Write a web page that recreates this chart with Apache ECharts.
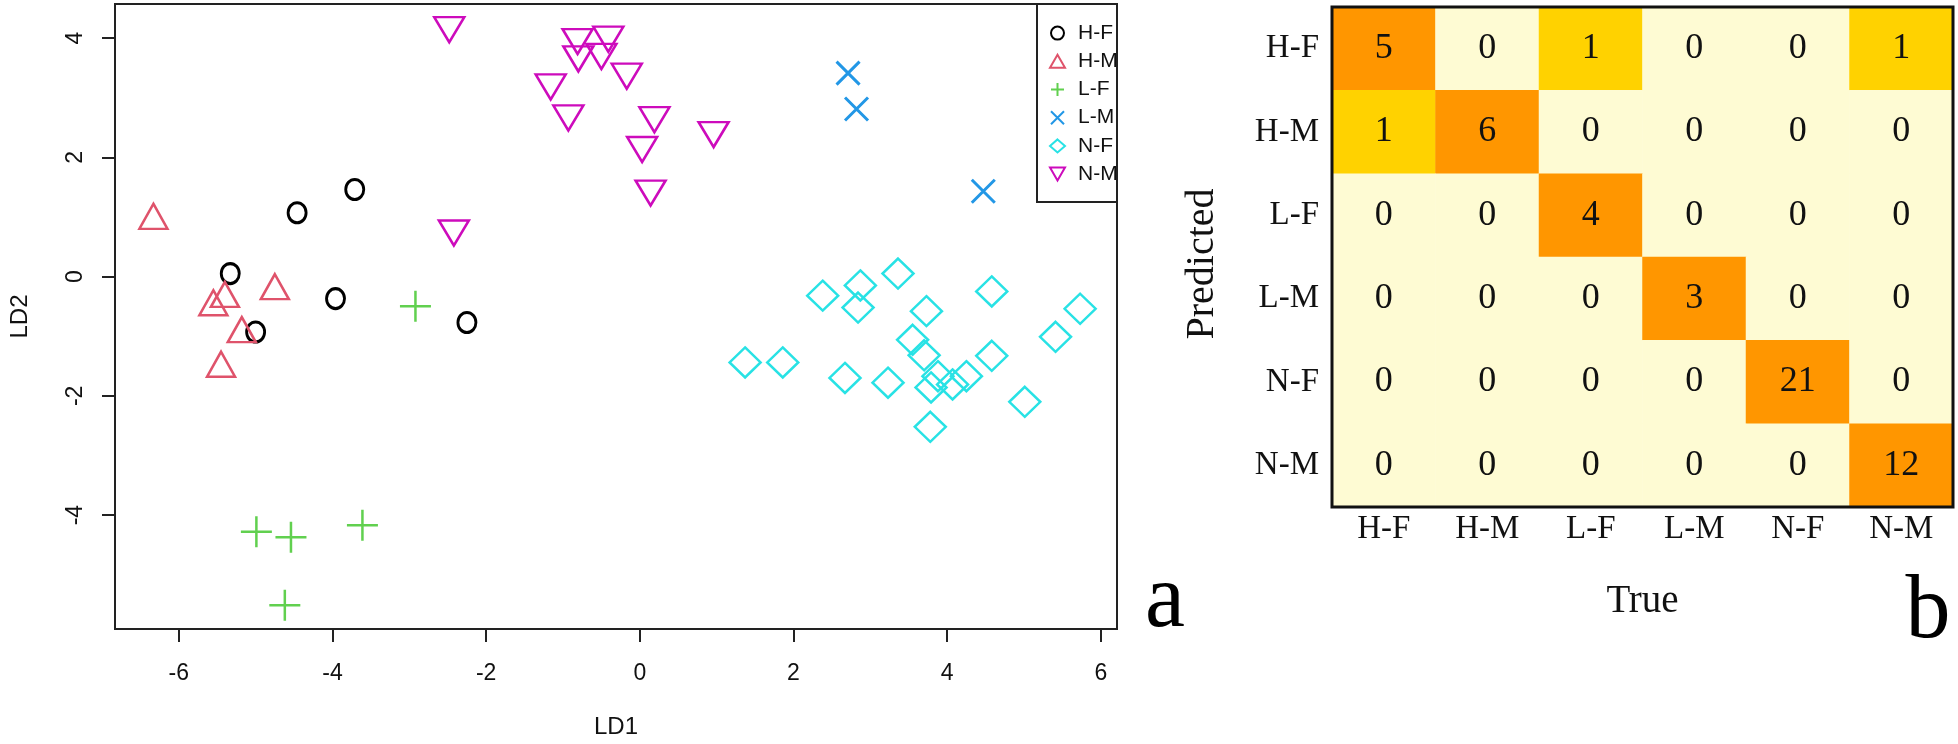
<!DOCTYPE html>
<html>
<head>
<meta charset="utf-8">
<script src="https://cdn.jsdelivr.net/npm/echarts@6/dist/echarts.min.js"></script>
<style>
html,body{margin:0;padding:0;background:#fff;}
#chart{width:1958px;height:744px;}
</style>
</head>
<body>
<div id="chart"></div>
<script>
// ---------- DATA ----------
const groups = ['H-F', 'H-M', 'L-F', 'L-M', 'N-F', 'N-M'];
const xTicks = [-6, -4, -2, 0, 2, 4, 6];
const yTicks = [-4, -2, 0, 2, 4];

const hfX = [-5.33, -4.46, -3.71, -3.96, -2.25, -5.00];
const hfY = [0.05, 1.07, 1.46, -0.37, -0.77, -0.93];

const hmX = [-6.33, -5.40, -5.55, -4.75, -5.18, -5.45];
const hmY = [1.01, -0.30, -0.44, -0.17, -0.89, -1.47];

const lfX = [-2.92, -4.99, -4.54, -3.61, -4.62];
const lfY = [-0.50, -4.28, -4.37, -4.17, -5.51];

const lmX = [2.71, 2.82, 4.47];
const lmY = [3.41, 2.81, 1.43];

const nfX = [2.38, 2.87, 2.84, 3.36, 3.73, 4.58, 5.73, 3.55, 3.70, 5.41, 4.58,
             1.37, 1.86, 2.67, 3.23, 3.79, 4.07, 4.25, 3.88, 5.01, 3.78];
const nfY = [-0.32, -0.15, -0.52, 0.05, -0.58, -0.25, -0.54, -1.06, -1.32, -1.01, -1.33,
             -1.44, -1.44, -1.70, -1.78, -1.86, -1.81, -1.67, -1.67, -2.10, -2.52];

const nmX = [-2.48, -0.81, -0.41, -0.80, -0.50, -0.17, -1.16, -0.93, -2.42, 0.19, 0.03, 0.14, 0.96];
const nmY = [4.14, 3.94, 3.98, 3.65, 3.69, 3.36, 3.18, 2.66, 0.73, 2.63, 2.13, 1.40, 2.38];

// confusion matrix: rows = Predicted, columns = True
const cmHF = [5, 0, 1, 0, 0, 1];
const cmHM = [1, 6, 0, 0, 0, 0];
const cmLF = [0, 0, 4, 0, 0, 0];
const cmLM = [0, 0, 0, 3, 0, 0];
const cmNF = [0, 0, 0, 0, 21, 0];
const cmNM = [0, 0, 0, 0, 0, 12];

// ---------- BUILD ----------
const zip = (xs, ys) => xs.map((x, i) => [x, ys[i]]);
const confRows = [cmHF, cmHM, cmLF, cmLM, cmNF, cmNM];
const heatData = [];
confRows.forEach((row, r) => row.forEach((v, c) => heatData.push([c, r, v])));

const SANS = 'Liberation Sans, Arial, sans-serif';
const SERIF = 'Liberation Serif, Times New Roman, serif';

function scatter(name, xs, ys, symbol, size, color, bw, rot) {
  return {
    type: 'scatter', name: name, xAxisIndex: 0, yAxisIndex: 0,
    data: zip(xs, ys), symbol: symbol, symbolSize: size, symbolRotate: rot || 0,
    itemStyle: { color: 'rgba(0,0,0,0)', borderColor: color, borderWidth: bw, opacity: 1 },
    emphasis: { disabled: true }
  };
}

const chart = echarts.init(document.getElementById('chart'), null, { renderer: 'canvas' });
chart.setOption({
  animation: false,
  backgroundColor: '#ffffff',
  grid: [
    { left: 112, top: 4, width: 1005, height: 626, show: true, borderColor: '#222', borderWidth: 2, backgroundColor: 'rgba(0,0,0,0)' },
    { left: 1332, top: 7, width: 621, height: 500, show: false }
  ],
  xAxis: [
    {
      gridIndex: 0, type: 'value', min: -6.83, max: 6.21,
      axisLine: { show: false, onZero: false }, splitLine: { show: false },
      axisTick: { show: true, length: 13, lineStyle: { color: '#222', width: 2 }, customValues: xTicks },
      axisLabel: { customValues: xTicks, fontSize: 23, fontFamily: SANS, color: '#111', margin: 33 },
      name: 'LD1', nameLocation: 'middle', nameGap: 86,
      nameTextStyle: { fontSize: 24, fontFamily: SANS, color: '#111' }
    },
    {
      gridIndex: 1, type: 'category', data: groups, position: 'bottom',
      axisLine: { show: false, onZero: false }, axisTick: { show: false }, splitLine: { show: false },
      axisLabel: { fontSize: 33, fontFamily: SERIF, color: '#111', margin: 6 },
      name: 'True', nameLocation: 'middle', nameGap: 75,
      nameTextStyle: { fontSize: 39, fontFamily: SERIF, color: '#111' }
    }
  ],
  yAxis: [
    {
      gridIndex: 0, type: 'value', min: -5.91, max: 4.57,
      axisLine: { show: false, onZero: false }, splitLine: { show: false },
      axisTick: { show: true, length: 13, lineStyle: { color: '#222', width: 2 }, customValues: yTicks },
      axisLabel: { customValues: yTicks, rotate: 90, fontSize: 23, fontFamily: SANS, color: '#111', margin: 28 },
      name: 'LD2', nameLocation: 'middle', nameGap: 83, nameRotate: 90,
      nameTextStyle: { fontSize: 24, fontFamily: SANS, color: '#111' }
    },
    {
      gridIndex: 1, type: 'category', data: groups, inverse: true,
      axisLine: { show: false, onZero: false }, axisTick: { show: false }, splitLine: { show: false },
      axisLabel: { fontSize: 33, fontFamily: SERIF, color: '#111', margin: 13 },
      name: 'Predicted', nameLocation: 'middle', nameGap: 110, nameRotate: 90,
      nameTextStyle: { fontSize: 40, fontFamily: SERIF, color: '#111', padding: [0, 14, 0, 0] }
    }
  ],
  legend: {
    data: groups.map(g => g === 'N-M' ? { name: g, icon: 'path://M0,0L10,0L5,8.66Z' } : { name: g }),
    orient: 'vertical', left: 1049, top: 19,
    itemWidth: 15, itemHeight: 13, itemGap: 0, padding: 0,
    selectedMode: false,
    textStyle: { fontSize: 21, fontFamily: SANS, color: '#111', lineHeight: 28.2, padding: [0, 0, 0, 8] }
  },
  visualMap: {
    type: 'piecewise', show: false, seriesIndex: 6, dimension: 2,
    pieces: [
      { lt: 0.5, color: '#FEFBD3' },
      { gte: 0.5, lt: 1.5, color: '#FFD200' },
      { gte: 1.5, color: '#FF9600' }
    ]
  },
  series: [
    scatter('H-F', hfX, hfY, 'circle', [18, 20], '#000000', 3),
    scatter('H-M', hmX, hmY, 'triangle', [28, 25], '#DF536B', 2.5),
    scatter('L-F', lfX, lfY, 'path://M0,5L10,5M5,0L5,10', 31, '#61D04F', 2.5),
    scatter('L-M', lmX, lmY, 'path://M0,0L10,10M10,0L0,10', 23, '#2297E6', 3),
    scatter('N-F', nfX, nfY, 'diamond', [31, 30], '#28E2E5', 2.5),
    scatter('N-M', nmX, nmY, 'triangle', [30, 25], '#CD0BBC', 2.5, 180),
    {
      type: 'heatmap', xAxisIndex: 1, yAxisIndex: 1, data: heatData,
      itemStyle: { borderWidth: 0 },
      label: { show: true, fontSize: 36, fontFamily: SERIF, color: '#111' },
      emphasis: { disabled: true }
    }
  ],
  graphic: [
    { type: 'rect', z: 100, shape: { x: 1037, y: 4, width: 80, height: 198 },
      style: { fill: 'none', stroke: '#222', lineWidth: 2 } },
    { type: 'rect', z: 100, shape: { x: 1332, y: 7, width: 621, height: 500 },
      style: { fill: 'none', stroke: '#111', lineWidth: 3 } },
    { type: 'text', z: 100, x: 1165, y: 602,
      style: { text: 'a', font: '90px ' + SERIF, fill: '#000', align: 'center', verticalAlign: 'middle' } },
    { type: 'text', z: 100, x: 1928, y: 613,
      style: { text: 'b', font: '90px ' + SERIF, fill: '#000', align: 'center', verticalAlign: 'middle' } }
  ]
});
</script>
</body>
</html>
